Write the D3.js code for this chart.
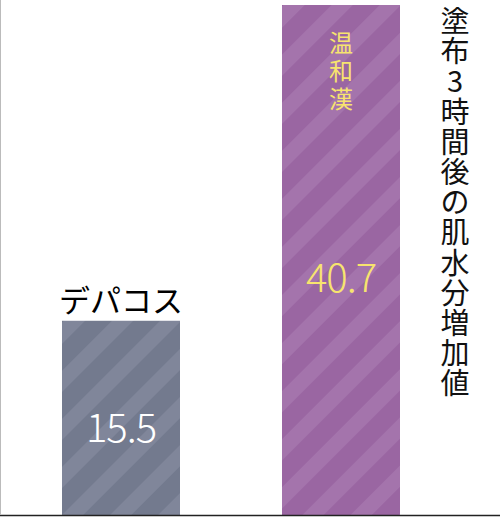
<!DOCTYPE html><html><head><meta charset="utf-8"><script src="https://cdn.jsdelivr.net/npm/d3@7"></script>
<style>body{margin:0;background:#fff}text{font-family:"Noto Sans CJK JP",sans-serif}</style></head><body><svg id="c" width="500" height="517"></svg><script>
const categories=["デパコス","温和漢"];
const values=[15.5,40.7];
const colors=["#737a8e","#9a66a2"];
const stripeColors=["#80869a","#a474ac"];
const valueColors=["#ffffff","#f7e46e"];
const title="塗布3時間後の肌水分増加値";
const svg=d3.select("#c");
const defs=svg.append("defs");
categories.forEach((c,i)=>{const p=defs.append("pattern").attr("id","p"+i).attr("patternUnits","userSpaceOnUse").attr("width",34).attr("height",34).attr("patternTransform","rotate(45)");
p.append("rect").attr("width",34).attr("height",34).attr("fill",colors[i]);
p.append("rect").attr("width",15).attr("height",34).attr("fill",stripeColors[i]);});
const y=d3.scaleLinear().domain([0,40.7]).range([515,5]);
const bw=118;
const cx=[121,341];
svg.selectAll("rect.bar").data(values).enter().append("rect").attr("class","bar")
 .attr("x",(d,i)=>cx[i]-bw/2).attr("width",bw).attr("y",d=>y(d)).attr("height",d=>y(0)-y(d)).attr("fill",(d,i)=>`url(#p${i})`);
svg.append("line").attr("x1",0).attr("x2",500).attr("y1",515.5).attr("y2",515.5).attr("stroke","#222").attr("stroke-width",1.5);
svg.append("line").attr("x1",0.5).attr("x2",0.5).attr("y1",0).attr("y2",515).attr("stroke","#bbb");
svg.append("text").attr("x",cx[0]).attr("y",y(values[0])-9).attr("text-anchor","middle").attr("font-size",31).text(categories[0]);
[...categories[1]].forEach((ch,k)=>svg.append("text").attr("x",cx[1]).attr("y",52+k*28).attr("text-anchor","middle").attr("font-size",24).attr("fill",valueColors[1]).text(ch));
const mids=[428,278];
values.forEach((v,i)=>svg.append("text").attr("x",cx[i]).attr("y",mids[i]+14).attr("text-anchor","middle").attr("font-size",40).attr("font-family","Lato, sans-serif").attr("font-weight",300).attr("letter-spacing",-1).attr("fill",valueColors[i]).text(v));
[...title].forEach((ch,k)=>svg.append("text").attr("x",455).attr("y",32+k*30.2).attr("text-anchor","middle").attr("font-size",29).attr("fill","#111").text(ch));
</script></body></html>
